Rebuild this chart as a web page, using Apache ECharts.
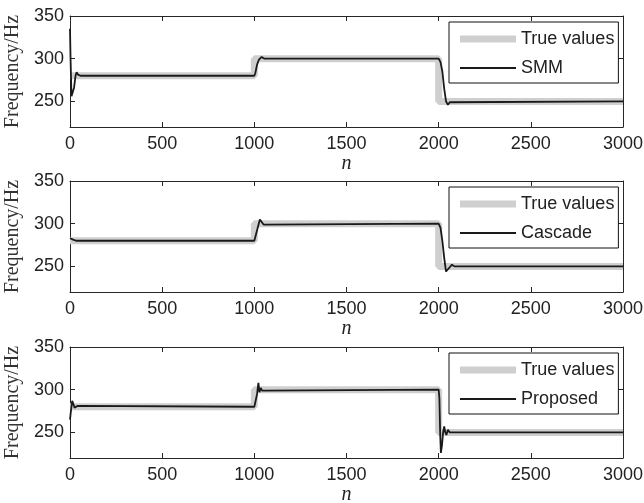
<!DOCTYPE html>
<html>
<head>
<meta charset="utf-8">
<script src="https://cdn.jsdelivr.net/npm/echarts@6/dist/echarts.min.js"></script>
<style>
  html, body { margin: 0; padding: 0; background: #fff; }
  #main { width: 644px; height: 503px; }
</style>
</head>
<body>
<div id="main"></div>
<script>
// x ticks and y ticks
var xTicks = [0, 500, 1000, 1500, 2000, 2500, 3000];
var yTicks = [250, 300, 350];

// true frequency (step)
var nTrue = [0, 1000, 1000, 2000, 2000, 3000];
var fTrue = [280, 280, 300, 300, 250, 250];

// SMM estimate
var nSmm = [0, 3, 8, 14, 22, 30, 36, 45, 60, 1000, 1005, 1015, 1025, 1040, 1055, 1070, 2000, 2010, 2020, 2030, 2040, 2050, 2060, 2070, 3000];
var fSmm = [335, 300, 256, 256, 266, 280, 284, 281, 280, 280, 283, 293, 299, 302, 300, 300, 300, 296, 285, 265, 250, 246, 249, 250, 250];

// Cascade estimate
var nCas = [0, 10, 20, 35, 1000, 1008, 1018, 1030, 1040, 1050, 1060, 2000, 2010, 2020, 2030, 2040, 2048, 2060, 2072, 2085, 3000];
var fCas = [283, 283, 281, 280, 280, 282, 295, 305, 303, 299, 300, 300, 295, 280, 260, 244, 243, 249, 252, 250, 250];

// Proposed estimate
var nPro = [0, 5, 12, 18, 25, 32, 40, 50, 1000, 1008, 1015, 1022, 1028, 1035, 1042, 1050, 2000, 2004, 2008, 2012, 2018, 2024, 2030, 2036, 2042, 2050, 2060, 3000];
var fPro = [265, 275, 287, 285, 279, 278, 281, 280, 280, 281, 295, 308, 297, 302, 299, 300, 300, 290, 250, 226, 235, 250, 257, 250, 247, 253, 250, 250];

var panels = [
  { name: 'SMM', n: nSmm, f: fSmm, top: 16 },
  { name: 'Cascade', n: nCas, f: fCas, top: 181 },
  { name: 'Proposed', n: nPro, f: fPro, top: 347 }
];

function zip(a, b) {
  return a.map(function (v, i) { return [v, b[i]]; });
}

var axisCol = '#262626';
var sansFont = '"Liberation Sans", Arial, sans-serif';
var serifFont = '"Liberation Serif", "Times New Roman", serif';

var grid = [], xAxis = [], yAxis = [], series = [], legend = [];

panels.forEach(function (p, i) {
  grid.push({ left: 70, right: 21, top: p.top, height: 111, outerBoundsMode: 'none', containLabel: false });
  // bottom axis
  xAxis.push({
    gridIndex: i, type: 'value', min: 0, max: 3000, interval: 500,
    position: 'bottom',
    name: 'n', nameLocation: 'middle', nameGap: 19,
    nameTextStyle: { fontFamily: serifFont, fontStyle: 'italic', fontSize: 20, color: '#222' },
    axisLine: { lineStyle: { color: axisCol, width: 1 } },
    axisTick: { inside: true, length: 5, lineStyle: { color: axisCol } },
    axisLabel: { fontFamily: sansFont, fontSize: 18, color: '#222', margin: 8,
      formatter: function (v) { return String(v); } },
    splitLine: { show: false }
  });
  // top axis (box)
  xAxis.push({
    gridIndex: i, type: 'value', min: 0, max: 3000, interval: 500,
    position: 'top',
    axisLine: { onZero: false, lineStyle: { color: axisCol, width: 1 } },
    axisTick: { inside: true, length: 5, lineStyle: { color: axisCol } },
    axisLabel: { show: false },
    splitLine: { show: false }
  });
  yAxis.push({
    gridIndex: i, type: 'value', min: 220, max: 350,
    position: 'left',
    name: 'Frequency/Hz', nameLocation: 'middle', nameGap: 45,
    nameTextStyle: { fontFamily: serifFont, fontSize: 20, color: '#333' },
    axisLine: { show: true, onZero: false, lineStyle: { color: axisCol, width: 1 } },
    axisTick: { show: true, inside: true, length: 5, customValues: yTicks, lineStyle: { color: axisCol } },
    axisLabel: { fontFamily: sansFont, fontSize: 18, color: '#222', margin: 6, customValues: yTicks },
    splitLine: { show: false }
  });
  yAxis.push({
    gridIndex: i, type: 'value', min: 220, max: 350,
    position: 'right',
    axisLine: { show: true, onZero: false, lineStyle: { color: axisCol, width: 1 } },
    axisTick: { show: true, inside: true, length: 5, customValues: yTicks, lineStyle: { color: axisCol } },
    axisLabel: { show: false },
    splitLine: { show: false }
  });

  series.push({
    name: 'True values', type: 'line', xAxisIndex: i * 2, yAxisIndex: i * 2,
    data: zip(nTrue, fTrue), symbol: 'none', silent: true,
    lineStyle: { color: '#cfcfcf', width: 7 },
    itemStyle: { color: '#cfcfcf' }
  });
  series.push({
    name: p.name, type: 'line', xAxisIndex: i * 2, yAxisIndex: i * 2,
    data: zip(p.n, p.f), symbol: 'none', silent: true,
    lineStyle: { color: '#1a1a1a', width: 1.8 },
    itemStyle: { color: '#1a1a1a' }
  });

  legend.push({
    data: [
      { name: 'True values', icon: 'path://M0,0 H56 V7 H0 Z' },
      { name: p.name, icon: 'path://M0,0 H56 V2 H0 Z' }
    ],
    orient: 'vertical', left: 449, top: p.top + 6,
    width: 170,
    padding: [8, 4, 6, 11],
    itemGap: 11, itemWidth: 56, itemHeight: 14,
    backgroundColor: '#fff', borderColor: '#111', borderWidth: 1,
    selectedMode: false,
    textStyle: { fontFamily: sansFont, fontSize: 18, color: '#222' }
  });
});

var myChart = echarts.init(document.getElementById('main'));
myChart.setOption({
  animation: false,
  backgroundColor: '#fff',
  grid: grid,
  xAxis: xAxis,
  yAxis: yAxis,
  legend: legend,
  series: series
});
</script>
</body>
</html>
